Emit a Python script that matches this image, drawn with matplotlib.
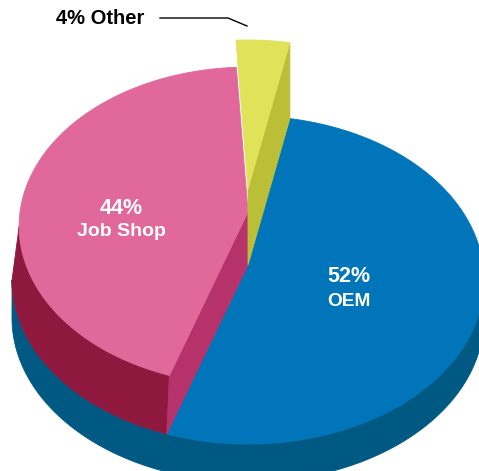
import numpy as np
import matplotlib.pyplot as plt
from matplotlib.patches import Polygon

# Datos del gráfico
etiquetas = ['OEM', 'Job Shop', 'Other']
porcentajes = [52, 44, 4]
colores_sup = ['#0075b9', '#e0689b', '#e0e25a']    # cara superior
colores_lado = ['#005982', '#8f193e', '#bbbe37']   # borde exterior / cara radial
color_radial_rosa = '#b6326a'

# Geometría del pastel en perspectiva (en píxeles)
CX, CY = 248, 280          # centro de la elipse de la cara superior
RX, RY = 236, 164          # semiejes
C0 = 15                    # desplazamiento del vértice del pastel
K = 30 / 328               # intensidad de la perspectiva
AX = RX * np.sqrt(1 - K**2)
INICIO = 78.8              # ángulo de inicio, sentido horario
elevacion = [0, 53, 76]    # cuánto sube cada porción
radio = [1.0, 0.97, 1.0]   # radio relativo de la cara superior
prof_base = 38             # grosor de la base azul
delta = np.degrees(np.arcsin(K))


def proyectar(theta, r=1.0, lift=0.0):
    t = np.radians(theta)
    u = r * np.cos(t)
    v = r * np.sin(t)
    w = 1 + K * v
    x = CX + AX * u / w
    y = CY - (RY * v + C0) / w - lift
    return np.column_stack([np.atleast_1d(x), np.atleast_1d(y)])


def borde(t0, t1, lift=0.0, r=1.0, n=150):
    return proyectar(np.linspace(t0, t1, n), r, lift)


def poligono(ax, pts, color, z):
    ax.add_patch(Polygon(pts, closed=True, facecolor=color, edgecolor=color,
                         linewidth=0.6, zorder=z))


# Ángulos de cada porción (sentido horario desde INICIO)
spans = np.array(porcentajes) * 3.6
fin = INICIO - np.cumsum(spans)
ini = np.concatenate([[INICIO], fin[:-1]])

fig = plt.figure(figsize=(4.79, 4.71), dpi=100)
ax = fig.add_axes([0, 0, 1, 1])
ax.set_xlim(0, 479)
ax.set_ylim(471, 0)
ax.axis('off')

# Base azul (lado frontal)
b_sup = borde(-180 + delta, -delta, 0)
b_inf = borde(-180 + delta, -delta, -prof_base)
poligono(ax, np.vstack([b_sup, b_inf[::-1]]), colores_lado[0], 1)

# OEM: cara superior
t0, t1 = fin[0], ini[0]
pts = np.vstack([proyectar(0, 0, elevacion[0]), borde(t0, t1, elevacion[0])])
poligono(ax, pts, colores_sup[0], 2)

# Job Shop: lado exterior, cara radial y cara superior
t0, t1 = fin[1], ini[1]
h, r = elevacion[1], radio[1]
lado_a = borde(max(t0, -180 + delta), t1, 0)
lado_b = borde(max(t0, -180 + delta), t1, h, r)
poligono(ax, np.vstack([lado_a, lado_b[::-1]]), colores_lado[1], 3)
radial = np.vstack([proyectar(0, 0, 0), proyectar(t1, 1, 0),
                    proyectar(t1, r, h), proyectar(0, 0, h)])
poligono(ax, radial, color_radial_rosa, 3)
pts = np.vstack([proyectar(0, 0, h), borde(t0, t1, h, r)])
poligono(ax, pts, colores_sup[1], 4)

# Other: cara radial (lado del OEM) y cara superior
t0, t1 = fin[2], ini[2]
h = elevacion[2]
radial = np.vstack([proyectar(0, 0, 0), proyectar(t0, 1, 0),
                    proyectar(t0, 1, h), proyectar(0, 0, h)])
poligono(ax, radial, colores_lado[2], 5)
pts = np.vstack([proyectar(0, 0, h), borde(t0, t1, h)])
poligono(ax, pts, colores_sup[2], 6)

# Etiquetas
fuente = 'Liberation Sans'
ax.text(121, 208, f'{porcentajes[1]}%', ha='center', va='center', color='white',
        fontsize=15.5, fontweight='bold', family=fuente, zorder=10)
ax.text(121, 231, etiquetas[1], ha='center', va='center', color='white',
        fontsize=14, fontweight='bold', family=fuente, zorder=10)
ax.text(349, 277, f'{porcentajes[0]}%', ha='center', va='center', color='white',
        fontsize=15.5, fontweight='bold', family=fuente, zorder=10)
ax.text(349, 301, etiquetas[0], ha='center', va='center', color='white',
        fontsize=13.8, fontweight='bold', family=fuente, zorder=10)
ax.text(100, 18, f'{porcentajes[2]}% {etiquetas[2]}', ha='center', va='center',
        color='black', fontsize=14.5, fontweight='bold', family=fuente, zorder=10)
ax.plot([160, 228, 247], [18, 18, 26], color='black', lw=1, zorder=10)

fig.savefig('out.png', dpi=100)
